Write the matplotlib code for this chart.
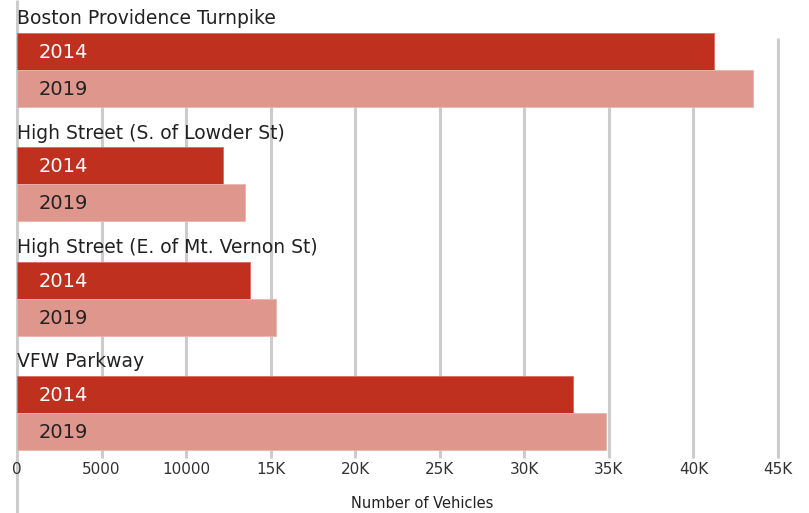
import matplotlib.pyplot as plt
import numpy as np

roads = ['Boston Providence Turnpike', 'High Street (S. of Lowder St)',
         'High Street (E. of Mt. Vernon St)', 'VFW Parkway']
years = ['2014', '2019']
vals_2014 = [41200, 12200, 13800, 32900]
vals_2019 = [43500, 13500, 15300, 34800]
ticks = [0, 5000, 10000, 15000, 20000, 25000, 30000, 35000, 40000, 45000]
tick_labels = ['0', '5000', '10000', '15K', '20K', '25K', '30K', '35K', '40K', '45K']

c14 = '#c0301f'
c19 = '#df968d'
grid_c = '#cccccc'

W, H = 809, 513
fig = plt.figure(figsize=(W / 100, H / 100), dpi=100)
# axes spans whole height; y in pixel units (top = 0)
x0, x1 = 17, 778
ax = fig.add_axes([x0 / W, 0, (x1 - x0) / W, 1])
ax.set_xlim(0, 45000)
ax.set_ylim(H, 0)
ax.axis('off')

# group layout (pixels)
top0 = 33
step = 114.3
bh = 37

ax.vlines(ticks[1:], 38, 458, color=grid_c, lw=2.2, zorder=0, clip_on=False)
ax.vlines([0], 0, H, color=grid_c, lw=2.2, zorder=0, clip_on=False)

for i, road in enumerate(roads):
    top = top0 + i * step
    ax.barh(top + bh / 2, vals_2014[i], height=bh, color=c14,
            edgecolor='#d96a5e', lw=0.6, zorder=2)
    ax.barh(top + bh * 1.5, vals_2019[i], height=bh, color=c19,
            edgecolor='#eab5ae', lw=0.6, zorder=2)
    ax.text(0, top - 14, road, fontsize=13.5, color='#222222',
            va='center', ha='left', zorder=3)
    ax.text(1250, top + bh / 2 + 1, years[0], fontsize=14, color='white',
            va='center', ha='left', zorder=3)
    ax.text(1250, top + bh * 1.5 + 1, years[1], fontsize=14, color='#222222',
            va='center', ha='left', zorder=3)

for t, lab in zip(ticks, tick_labels):
    ax.text(t, 470, lab, fontsize=11, color='#333333', ha='center', va='center')

fig.text(422 / W, 1 - 504 / H, 'Number of Vehicles', fontsize=10.5,
         color='#222222', ha='center', va='center')

fig.savefig('out.png', dpi=100)
